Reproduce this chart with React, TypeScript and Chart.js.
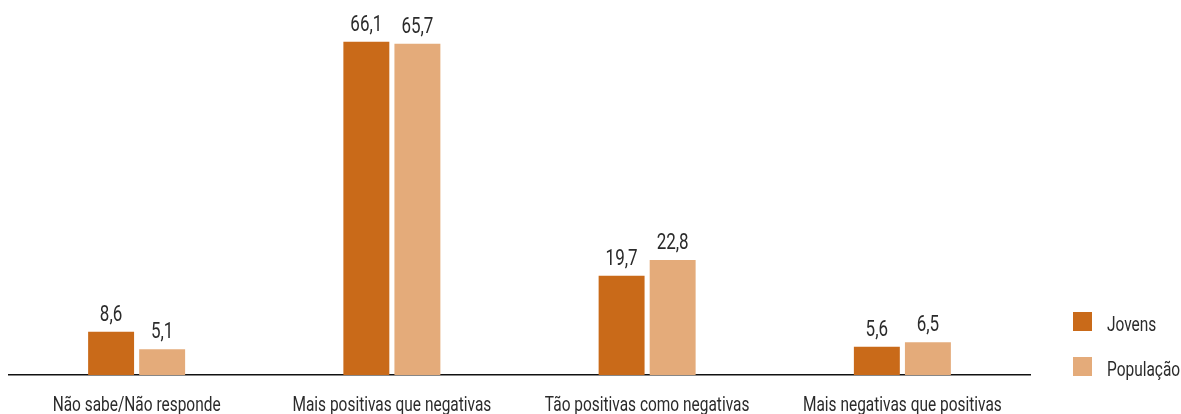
import React, { useEffect, useRef } from "react";
import { Chart, registerables } from "chart.js";

Chart.register(...registerables);

const categories = [
  "Não sabe/Não responde",
  "Mais positivas que negativas",
  "Tão positivas como negativas",
  "Mais negativas que positivas",
];
const jovens = [8.6, 66.1, 19.7, 5.6];
const populacao = [5.1, 65.7, 22.8, 6.5];
const seriesNames = ["Jovens", "População"];
const colors = ["#C96A19", "#E4AB7A"];

const FAMILY = "'Roboto', 'DejaVu Sans', sans-serif";
const TEXT = "#2b2b2b";

function condensedText(ctx: any, text: string, x: number, y: number, sx: number) {
  ctx.save();
  ctx.translate(x, y);
  ctx.scale(sx, 1);
  ctx.fillText(text, 0, 0);
  ctx.restore();
}

const textPlugin = {
  id: "textPlugin",
  afterDraw(chart: any) {
    const ctx = chart.ctx;
    ctx.save();
    ctx.font = `20px ${FAMILY}`;
    const w = ctx.measureText(categories[0]).width;
    const sx = Math.min(1, 168 / w);
    ctx.fillStyle = TEXT;
    ctx.textAlign = "center";
    ctx.textBaseline = "alphabetic";
    const xs = chart.scales.x;
    categories.forEach((c, i) => {
      condensedText(ctx, c, xs.getPixelForValue(i), 411, sx);
    });
    ctx.font = `22px ${FAMILY}`;
    chart.data.datasets.forEach((ds: any, i: number) => {
      const meta = chart.getDatasetMeta(i);
      meta.data.forEach((bar: any, j: number) => {
        const v = ds.data[j];
        condensedText(ctx, v.toFixed(1).replace(".", ","), bar.x, bar.y - 11, sx);
      });
    });
    ctx.font = `20px ${FAMILY}`;
    ctx.textAlign = "left";
    const x = 1073;
    const ys = [312, 357];
    seriesNames.forEach((name, i) => {
      ctx.fillStyle = colors[i];
      ctx.fillRect(x, ys[i], 19, 19);
      ctx.fillStyle = TEXT;
      condensedText(ctx, name, 1107, ys[i] + 19, sx);
    });
    ctx.restore();
  },
};

export default function App() {
  const ref = useRef<HTMLCanvasElement>(null);
  useEffect(() => {
    document.body.style.margin = "0";
    const chart = new Chart(ref.current!, {
      type: "bar",
      data: {
        labels: categories,
        datasets: [
          { label: seriesNames[0], data: jovens, backgroundColor: colors[0] },
          { label: seriesNames[1], data: populacao, backgroundColor: colors[1] },
        ],
      },
      options: {
        responsive: false,
        animation: false,
        layout: { padding: { left: 9, right: 151, top: 22, bottom: 0 } },
        datasets: {
          bar: { categoryPercentage: 0.4, barPercentage: 0.9 },
        },
        plugins: {
          legend: { display: false },
          tooltip: { enabled: false },
        },
        scales: {
          x: {
            grid: { display: false, drawTicks: false },
            border: { display: true, color: "#111", width: 1.5 },
            ticks: { display: false },
            afterFit(scale: any) {
              scale.height = 39;
            },
          },
          y: {
            display: false,
            min: 0,
            max: 70,
          },
        },
      },
      plugins: [textPlugin],
    });
    return () => chart.destroy();
  }, []);
  return <canvas ref={ref} width={1181} height={414} style={{ display: "block" }} />;
}
